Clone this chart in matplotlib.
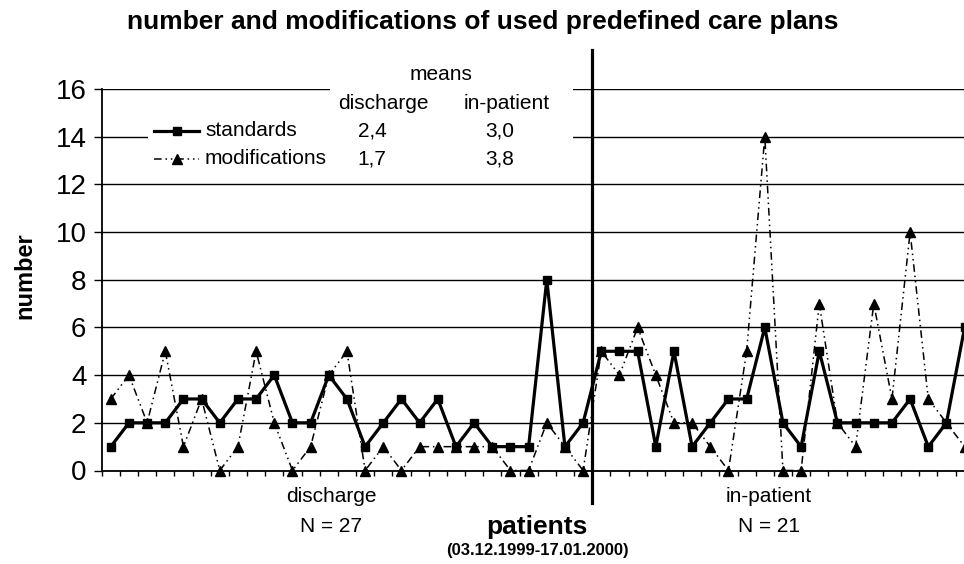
"""
Care plan usage chart: standards vs. modifications per patient.
"""
import numpy as np
import matplotlib
matplotlib.use('Agg')
import matplotlib.pyplot as plt
from matplotlib.patches import Rectangle
from matplotlib.lines import Line2D

plt.rcParams['font.family'] = ['Liberation Sans', 'DejaVu Sans']

# Data
discharge_standards = [1, 2, 2, 2, 3, 3, 2, 3, 3, 4, 2, 2, 4, 3, 1, 2, 3, 2, 3, 1, 2, 1, 1, 1, 8, 1, 2]
discharge_modifications = [3, 4, 2, 5, 1, 3, 0, 1, 5, 2, 0, 1, 4, 5, 0, 1, 0, 1, 1, 1, 1, 1, 0, 0, 2, 1, 0]
inpatient_standards = [5, 5, 5, 1, 5, 1, 2, 3, 3, 6, 2, 1, 5, 2, 2, 2, 2, 3, 1, 2, 6]
inpatient_modifications = [5, 4, 6, 4, 2, 2, 1, 0, 5, 14, 0, 0, 7, 2, 1, 7, 3, 10, 3, 2, 1]

group_labels = ['discharge', 'in-patient']
series_labels = ['standards', 'modifications']
means_standards = ['2,4', '3,0']
means_modifications = ['1,7', '3,8']
y_ticks = [0, 2, 4, 6, 8, 10, 12, 14, 16]

standards = discharge_standards + inpatient_standards
modifications = discharge_modifications + inpatient_modifications
n_dis = len(discharge_standards)
n_in = len(inpatient_standards)
x = np.arange(1, len(standards) + 1)

W, H = 964, 564


def fx(px):
    return px / W


def fy(py):
    return 1 - py / H


fig = plt.figure(figsize=(W / 100, H / 100), dpi=100)
# axes reaches a little past the right edge, as in the original
ax = fig.add_axes([fx(101.7), fy(470.5), fx(973.7) - fx(101.7), fy(89) - fy(470.5)])

mod_ls = (0, (5, 2.5, 1, 2.5, 1, 2.5))
ax.plot(x, modifications, color='black', lw=1.1, linestyle=mod_ls,
        marker='^', markersize=6.5, clip_on=False, zorder=3)
ax.plot(x, standards, color='black', lw=2.3, marker='s', markersize=6,
        clip_on=False, zorder=4)

ax.set_xlim(0.5, len(standards) + 0.5)
ax.set_ylim(0, 16)
ax.set_yticks(y_ticks)
ax.set_yticklabels([str(t) for t in y_ticks], fontsize=20)
ax.set_xticks(np.arange(0.5, len(standards) + 1))
ax.set_xticklabels([])
ax.tick_params(axis='y', direction='out', length=6, width=1, pad=5)
ax.tick_params(axis='x', direction='out', length=3.5, width=1)
ax.yaxis.grid(True, color='black', lw=1)
ax.set_axisbelow(True)
for s in ['top', 'right']:
    ax.spines[s].set_visible(False)
for s in ['left', 'bottom']:
    ax.spines[s].set_linewidth(1.3)

# divider between the two patient groups
ax.plot([n_dis + 0.5, n_dis + 0.5], [-0.085, 1.102], color='black', lw=2.3,
        transform=ax.get_xaxis_transform(), clip_on=False, zorder=5)

# white area behind the means table
for (x0, y0, x1, y1) in [(330, 60, 573, 175), (148, 115, 573, 175)]:
    fig.add_artist(Rectangle((fx(x0), fy(y1)), fx(x1) - fx(x0), fy(y0) - fy(y1),
                             transform=fig.transFigure, facecolor='white',
                             edgecolor='none', zorder=1))

# legend handles
fig.add_artist(Line2D([fx(154), fx(199)], [fy(131), fy(131)], color='black', lw=2.3,
                      transform=fig.transFigure, zorder=2))
fig.add_artist(Line2D([fx(177)], [fy(131)], color='black', marker='s', markersize=6,
                      transform=fig.transFigure, zorder=2))
fig.add_artist(Line2D([fx(154), fx(199)], [fy(159), fy(159)], color='black', lw=1.1,
                      linestyle=mod_ls, transform=fig.transFigure, zorder=2))
fig.add_artist(Line2D([fx(177)], [fy(159)], color='black', marker='^', markersize=6.5,
                      transform=fig.transFigure, zorder=2))

fs = 15
fig.text(fx(441), fy(75), 'means', fontsize=fs, ha='center', va='center')
fig.text(fx(383), fy(103), group_labels[0], fontsize=fs, ha='center', va='center')
fig.text(fx(507), fy(103), group_labels[1], fontsize=fs, ha='center', va='center')
fig.text(fx(205), fy(131), series_labels[0], fontsize=fs, ha='left', va='center')
fig.text(fx(205), fy(159), series_labels[1], fontsize=fs, ha='left', va='center')
fig.text(fx(372), fy(131), means_standards[0], fontsize=fs, ha='center', va='center')
fig.text(fx(372), fy(159), means_modifications[0], fontsize=fs, ha='center', va='center')
fig.text(fx(500), fy(131), means_standards[1], fontsize=fs, ha='center', va='center')
fig.text(fx(500), fy(159), means_modifications[1], fontsize=fs, ha='center', va='center')

# titles and axis labels
fig.text(fx(483), fy(22), 'number and modifications of used predefined care plans',
         fontsize=19, fontweight='bold', ha='center', va='center')
fig.text(fx(25), fy(276), 'number', fontsize=17, fontweight='bold', rotation=90,
         ha='center', va='center')
fig.text(fx(537), fy(527), 'patients', fontsize=19, fontweight='bold',
         ha='center', va='center')
fig.text(fx(537), fy(551), '(03.12.1999-17.01.2000)', fontsize=12, fontweight='bold',
         ha='center', va='center')
fig.text(fx(331), fy(497), group_labels[0], fontsize=fs, ha='center', va='center')
fig.text(fx(331), fy(527), f'N = {n_dis}', fontsize=fs, ha='center', va='center')
fig.text(fx(769), fy(497), group_labels[1], fontsize=fs, ha='center', va='center')
fig.text(fx(769), fy(527), f'N = {n_in}', fontsize=fs, ha='center', va='center')

fig.savefig('out.png', dpi=100)
